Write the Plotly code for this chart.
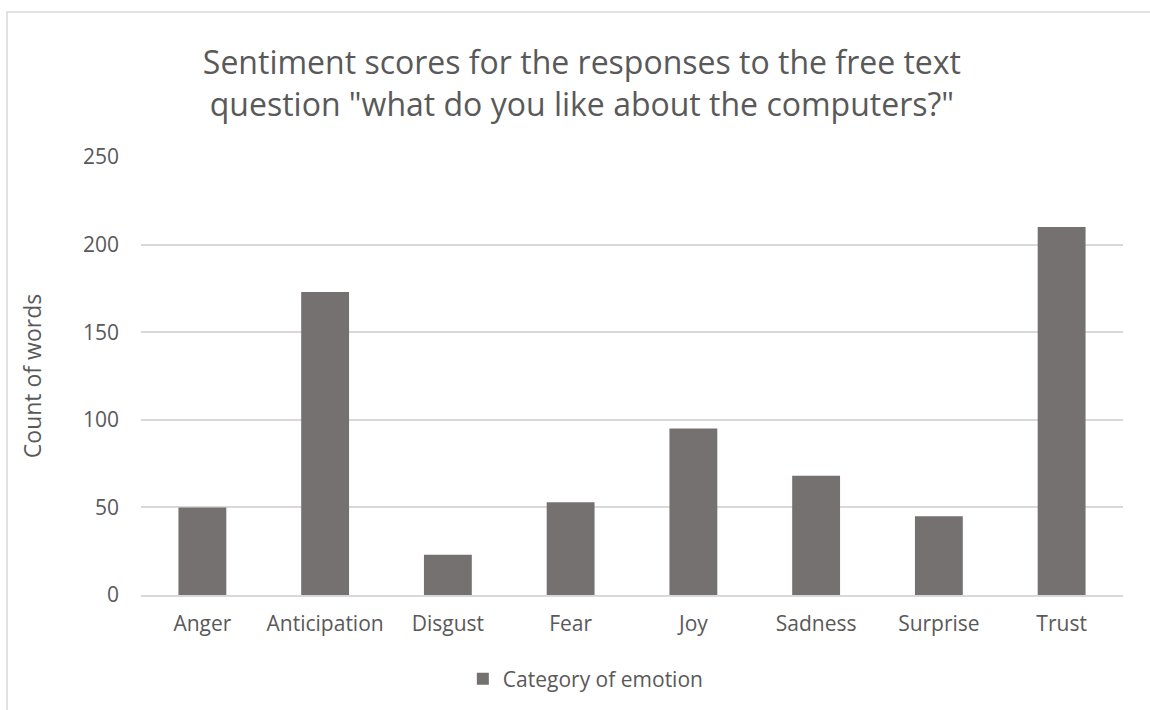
import plotly.graph_objects as go

categories = ["Anger", "Anticipation", "Disgust", "Fear", "Joy", "Sadness", "Surprise", "Trust"]
counts = [50, 173, 23, 53, 95, 68, 45, 210]
series_name = "Category of emotion"
y_ticks = [0, 50, 100, 150, 200, 250]

FONT = "Open Sans"
TXT = "#595959"
BAR = "#767171"
GRID = "#d9d9d9"

fig = go.Figure()
fig.add_trace(go.Bar(
    x=categories, y=counts, name=series_name,
    marker=dict(color=BAR, line=dict(width=0)),
    showlegend=True,
))

fig.update_layout(
    width=1150, height=710,
    margin=dict(l=141, r=27, t=157, b=115, autoexpand=False),
    paper_bgcolor="white", plot_bgcolor="white",
    bargap=0.61,
    font=dict(family=FONT, color=TXT),
    title=dict(
        text="Sentiment scores for the responses to the free text<br>question \"what do you like about the computers?\"",
        x=0.449, xref="paper", xanchor="center",
        y=1 - 74 / 710, yref="container", yanchor="middle",
        font=dict(family=FONT, size=32, color=TXT),
    ),
    xaxis=dict(
        showgrid=False, showline=True, linecolor=GRID, linewidth=1.5,
        ticks="", tickfont=dict(family=FONT, size=21, color=TXT),
        ticklabelstandoff=9,
    ),
    yaxis=dict(
        range=[0, 250], tickvals=y_ticks, showgrid=True, gridcolor=GRID, gridwidth=1.5,
        zeroline=False, showline=False, ticks="",
        tickfont=dict(family=FONT, size=21, color=TXT),
        title=dict(text="Count of words", font=dict(family=FONT, size=23, color=TXT), standoff=34),
        ticklabelstandoff=21,
    ),
    legend=dict(
        orientation="h", x=0.453, xanchor="center", y=-0.192, yanchor="middle",
        font=dict(family=FONT, size=21, color=TXT),
    ),
    shapes=[dict(
        type="rect", xref="paper", yref="paper",
        x0=(7 - 141) / 982, x1=(1170 - 141) / 982,
        y0=(595 - 730) / 438, y1=(595 - 12) / 438,
        line=dict(color=GRID, width=1.5), fillcolor="rgba(0,0,0,0)", layer="below",
    )],
)

fig.write_html("out.html")
